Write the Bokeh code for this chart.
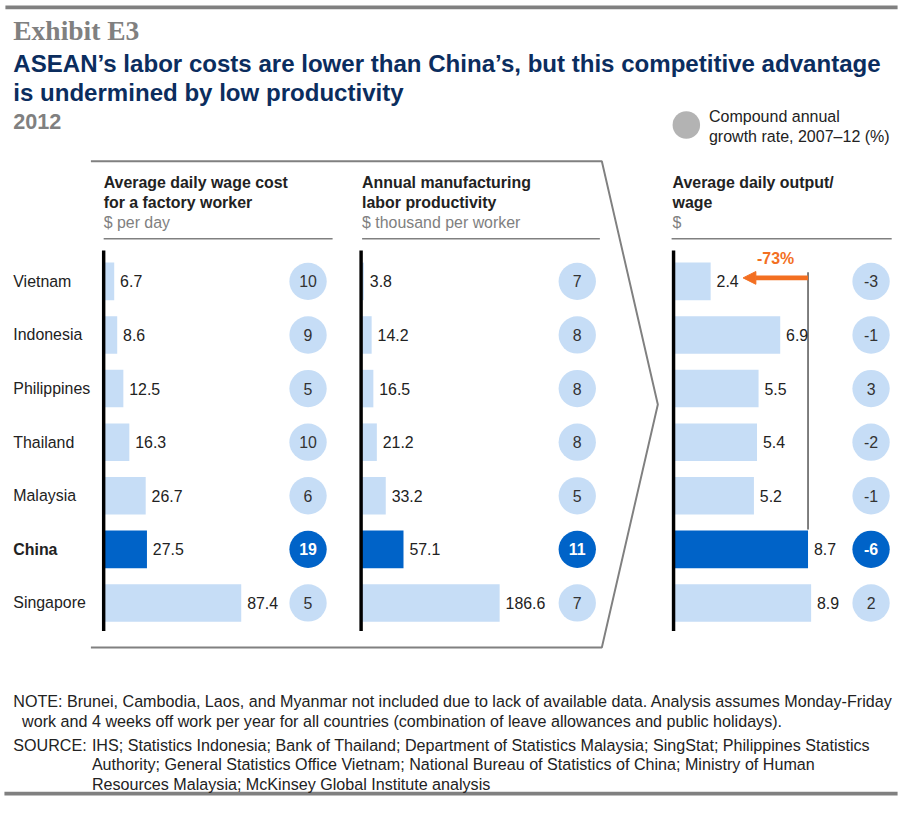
from bokeh.plotting import figure
from bokeh.models import Range1d, Arrow, NormalHead, ColumnDataSource
from bokeh.core.properties import value
from bokeh.embed import file_html
from bokeh.resources import INLINE

# ---------------- data ----------------
countries = ["Vietnam", "Indonesia", "Philippines", "Thailand", "Malaysia", "China", "Singapore"]
wage = [6.7, 8.6, 12.5, 16.3, 26.7, 27.5, 87.4]
wage_cagr = [10, 9, 5, 10, 6, 19, 5]
productivity = [3.8, 14.2, 16.5, 21.2, 33.2, 57.1, 186.6]
prod_cagr = [7, 8, 8, 8, 5, 11, 7]
output_wage = [2.4, 6.9, 5.5, 5.4, 5.2, 8.7, 8.9]
ow_cagr = [-3, -1, 3, -2, -1, -6, 2]
highlight = "China"
gap_label = "-73%"

title_lines = ["ASEAN\u2019s labor costs are lower than China\u2019s, but this competitive advantage",
               "is undermined by low productivity"]
headers = [["Average daily wage cost", "for a factory worker", "$ per day"],
           ["Annual manufacturing", "labor productivity", "$ thousand per worker"],
           ["Average daily output/", "wage", "$"]]
legend_lines = ["Compound annual", "growth rate, 2007\u201312 (%)"]
note_lines = ["NOTE: Brunei, Cambodia, Laos, and Myanmar not included due to lack of available data. Analysis assumes Monday-Friday",
              "work and 4 weeks off work per year for all countries (combination of leave allowances and public holidays)."]
source_lines = ["IHS; Statistics Indonesia; Bank of Thailand; Department of Statistics Malaysia; SingStat; Philippines Statistics",
                "Authority; General Statistics Office Vietnam; National Bureau of Statistics of China; Ministry of Human",
                "Resources Malaysia; McKinsey Global Institute analysis"]

# ---------------- layout / style ----------------
FONT = value("Liberation Sans")
LIGHT = "#c6ddf6"
DARK = "#0063c8"
GRAY = "#808080"
NAVY = "#0b2d5e"
ORANGE = "#f36f21"
TXT = "#222222"

W, H = 902, 800          # figure size on the page
RW, RH = 918, 816        # design canvas
S = W / RW


def fs(px):
    return "%.2fpx" % (px * S)


ROW0, ROWSTEP = 286.5, 54.67
panel_x0 = [105, 367, 685]          # design position of each panel's zero line
panel_len = [140, 141, 140]         # design length of the longest bar
panel_circle_x = [313, 587, 886]
panel_header_x = [105, 368, 684]
panel_sep = [(105, 338), (368, 610), (683, 907)]
panel_values = [wage, productivity, output_wage]
panel_cagr = [wage_cagr, prod_cagr, ow_cagr]

p = figure(width=W, height=H, x_range=Range1d(0, RW), y_range=Range1d(RH, 0),
           output_backend="svg", toolbar_location=None, min_border=0,
           x_axis_location=None, y_axis_location=None, outline_line_color=None)
p.xgrid.visible = False
p.ygrid.visible = False

p.extra_y_ranges = {"rows": Range1d((RH - ROW0) / ROWSTEP, (0 - ROW0) / ROWSTEP)}
scales = []
for i, vals in enumerate(panel_values):
    k = panel_len[i] / max(vals)
    scales.append(k)
    p.extra_x_ranges["p%d" % i] = Range1d((0 - panel_x0[i]) / k, (RW - panel_x0[i]) / k)

rows = list(range(len(countries)))

# rules
p.quad(left=5, right=913, top=5, bottom=9, color=GRAY, line_color=None)
p.quad(left=4, right=913, top=807, bottom=811, color=GRAY, line_color=None)

# titles
p.text(x=[13], y=[31], text=["Exhibit E3"], text_font=value("Liberation Serif"), text_font_style="bold",
       text_font_size=fs(28), text_color=GRAY, text_baseline="middle")
for j, t in enumerate(title_lines):
    p.text(x=[13], y=[64 + 30 * j], text=[t], text_font=FONT, text_font_style="bold",
           text_font_size=fs(24.5), text_color=NAVY, text_baseline="middle")
p.text(x=[13], y=[123], text=["2012"], text_font=FONT, text_font_style="bold",
       text_font_size=fs(22), text_color=GRAY, text_baseline="middle")

# legend
p.scatter(x=[698], y=[127], size=28 * S, marker="circle", color="#b3b3b3", line_color=None)
for j, t in enumerate(legend_lines):
    p.text(x=[721], y=[118 + 20 * j], text=[t], text_font=FONT, text_font_size=fs(16.3),
           text_color=TXT, text_baseline="middle")

# chevron frame
p.line(x=[92, 612, 669, 612, 92], y=[164, 164, 412, 660, 660], line_color=GRAY, line_width=2 * S)

# country labels
for i, c in enumerate(countries):
    p.text(x=[13], y=[i], text=[c], y_range_name="rows", text_font=FONT, text_font_size=fs(16.2),
           text_font_style="bold" if c == highlight else "normal",
           text_color=TXT, text_baseline="middle")

for i in range(3):
    # headers
    hx = panel_header_x[i]
    for j, t in enumerate(headers[i]):
        p.text(x=[hx], y=[186 + 20 * j], text=[t], text_font=FONT, text_font_size=fs(16.2),
               text_font_style="bold" if j < 2 else "normal",
               text_color=TXT if j < 2 else GRAY, text_baseline="middle")
    s0, s1 = panel_sep[i]
    p.segment(x0=[s0], x1=[s1], y0=[243], y1=[243], line_color=GRAY, line_width=1.5 * S)

    vals = panel_values[i]
    cagr = panel_cagr[i]
    colors = [DARK if c == highlight else LIGHT for c in countries]
    src = ColumnDataSource(dict(row=rows, v=vals, color=colors,
                                label=["%.1f" % v for v in vals]))
    p.hbar(y="row", left=0, right="v", height=0.7, color="color", line_color=None,
           source=src, x_range_name="p%d" % i, y_range_name="rows")
    p.text(x="v", y="row", text="label", source=src, x_offset=6 * S, text_font=FONT,
           text_font_size=fs(16.2), text_color=TXT, text_baseline="middle",
           x_range_name="p%d" % i, y_range_name="rows")
    # zero line
    p.segment(x0=[0], x1=[0], y0=[255], y1=[643], line_color="black", line_width=3.5 * S,
              x_range_name="p%d" % i)
    # CAGR circles
    csrc = ColumnDataSource(dict(x=[panel_circle_x[i]] * len(rows), row=rows, color=colors,
                                 t=[str(v) for v in cagr],
                                 tc=["white" if c == highlight else "#333333" for c in countries],
                                 fs=["bold" if c == highlight else "normal" for c in countries]))
    p.scatter(x="x", y="row", size=38 * S, marker="circle", color="color", line_color=None,
              source=csrc, y_range_name="rows")
    p.text(x="x", y="row", text="t", text_color="tc", text_font_style="fs", source=csrc,
           text_font=FONT, text_font_size=fs(16.2), text_align="center", text_baseline="middle",
           y_range_name="rows")

# gap bracket & arrow (output/wage panel): China vs Vietnam
ci = countries.index(highlight)
vi = countries.index("Vietnam")
xc = output_wage[ci]
p.segment(x0=[xc], x1=[xc], y0=[vi - 0.17], y1=[ci - 0.37], line_color="black", line_width=1,
          x_range_name="p2", y_range_name="rows")
x_tip = output_wage[vi] + 33 / scales[2]
p.add_layout(Arrow(end=NormalHead(size=13 * S, fill_color=ORANGE, line_color=ORANGE),
                   x_start=xc, y_start=vi - 0.065, x_end=x_tip, y_end=vi - 0.065,
                   line_color=ORANGE, line_width=5 * S, x_range_name="p2", y_range_name="rows"))
p.text(x=[(xc + x_tip) / 2], y=[vi - 0.42], text=[gap_label], x_range_name="p2",
       y_range_name="rows", text_font=FONT, text_font_style="bold", text_font_size=fs(16.2),
       text_color=ORANGE, text_align="center", text_baseline="middle")

# notes
NFS = fs(16.4)
for j, t in enumerate(note_lines):
    p.text(x=[13 if j == 0 else 22], y=[715 + 20 * j], text=[t], text_font=FONT,
           text_font_size=NFS, text_color=TXT, text_baseline="middle")
p.text(x=[13], y=[759], text=["SOURCE:"], text_font=FONT, text_font_size=NFS,
       text_color=TXT, text_baseline="middle")
for j, t in enumerate(source_lines):
    p.text(x=[93], y=[759 + 20 * j], text=[t], text_font=FONT, text_font_size=NFS,
           text_color=TXT, text_baseline="middle")

open("out.html", "w").write(file_html(p, INLINE))
